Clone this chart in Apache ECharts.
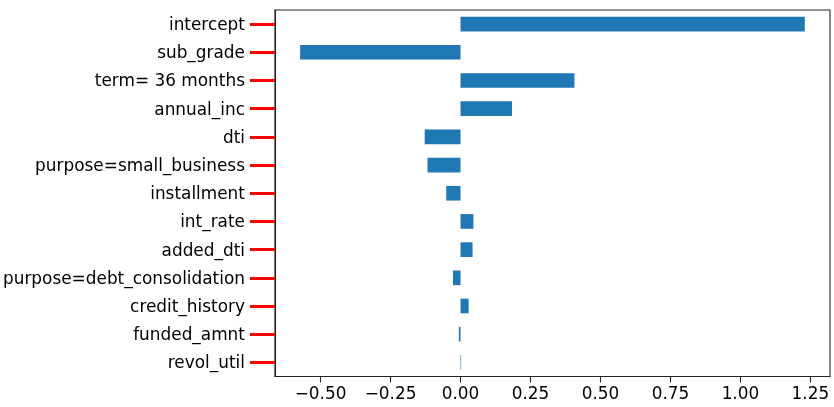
<!DOCTYPE html>
<html>
<head>
<meta charset="utf-8">
<script src="https://cdn.jsdelivr.net/npm/echarts@6/dist/echarts.min.js"></script>
<style>
  html, body { margin: 0; padding: 0; background: #fff; }
  #chart { width: 834px; height: 407px; }
</style>
</head>
<body>
<div id="chart"></div>
<script>
// coefficient names, top to bottom
const features = [
  'intercept', 'sub_grade', 'term= 36 months', 'annual_inc', 'dti',
  'purpose=small_business', 'installment', 'int_rate', 'added_dti',
  'purpose=debt_consolidation', 'credit_history', 'funded_amnt', 'revol_util'
]
const coefs = [1.230, -0.573, 0.407, 0.184, -0.128, -0.118, -0.051, 0.046, 0.043, -0.027, 0.029, -0.006, 0.002]
const xTicks = [-0.5, -0.25, 0, 0.25, 0.5, 0.75, 1.0, 1.25]

const font = 'DejaVu Sans'
const spine = { color: '#262626', width: 1.1 }
const chart = echarts.init(document.getElementById('chart'))

chart.setOption({
  animation: false,
  grid: {
    left: 265.5, right: 4, top: 10, bottom: 30.5,
    show: true, borderColor: '#262626', borderWidth: 1.1
  },
  xAxis: {
    type: 'value',
    min: -0.663,
    max: 1.320,
    splitLine: { show: false },
    axisLine: { show: true, onZero: false, lineStyle: spine },
    axisTick: { show: true, length: 6, lineStyle: spine, customValues: xTicks },
    axisLabel: {
      customValues: xTicks,
      margin: 10,
      color: '#000',
      fontFamily: font,
      fontSize: 16.9,
      formatter: (v) => v.toFixed(2).replace('-', '\u2212')
    }
  },
  yAxis: {
    type: 'category',
    data: features,
    inverse: true,
    axisLine: { show: true, onZero: false, lineStyle: spine },
    axisTick: { show: true, alignWithLabel: true, length: 25, lineStyle: { color: '#ff0000', width: 3 } },
    axisLabel: {
      margin: 30, color: '#000', fontFamily: font, fontSize: 16.9,
      formatter: (v) => '{t|' + v + '}',
      rich: { t: { fontFamily: font, fontSize: 16.9, color: '#000', padding: [3, 0, 0, 0] } }
    },
    splitLine: { show: false }
  },
  series: [
    {
      type: 'bar',
      data: coefs,
      barWidth: '52%',
      itemStyle: { color: '#1f77b4' }
    }
  ]
})
</script>
</body>
</html>
